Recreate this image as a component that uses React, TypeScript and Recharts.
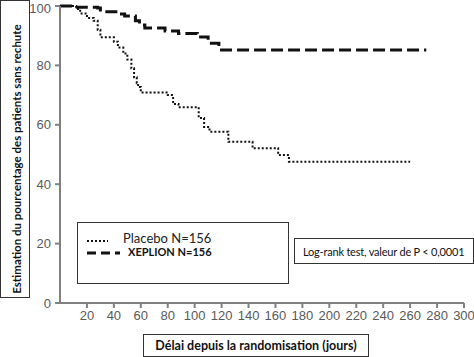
import React from "react"
import { LineChart, Line, XAxis, YAxis } from "recharts"

// Kaplan-Meier steps (days, % without relapse)
const placeboDays = [0, 12, 15, 20, 25, 28, 30, 40, 43, 47, 50, 53, 55, 57, 58, 60, 80, 84, 88, 103, 107, 111, 125, 143, 162, 170, 260]
const placeboPct = [100, 99, 97.5, 96, 95, 92, 89.5, 88, 86, 84, 82, 79, 76, 74, 72.7, 70.9, 70, 67, 65.9, 62.3, 59.3, 57.7, 54.3, 52.1, 49.8, 47.6, 47.6]

const xeplionDays = [0, 10, 28, 30, 44, 48, 56, 59, 63, 78, 88, 102, 110, 118, 272]
const xeplionPct = [100, 99.6, 99.3, 98.1, 97.3, 96.6, 95, 93.6, 92.6, 91.6, 90.7, 89.6, 87.5, 85.2, 85.2]

const xTicks = [20, 40, 60, 80, 100, 120, 140, 160, 180, 200, 220, 240, 260, 280, 300]
const yTicks = [0, 20, 40, 60, 80, 100]

const placeboData = placeboDays.map((x, i) => ({ x, y: placeboPct[i] }))
const xeplionData = xeplionDays.map((x, i) => ({ x, y: xeplionPct[i] }))

const boxFont = "Lato, 'Open Sans', sans-serif"
const tickStyle = { fontSize: 13, fill: "#595959", fontFamily: "'Liberation Sans', Arial, sans-serif" }

export default function App() {
  return (
    <div style={{ position: "absolute", left: 0, top: 0, width: 474, height: 357, background: "#fff" }}>
      <LineChart width={474} height={357} margin={{ top: 6, right: 10, bottom: 0, left: 0 }}>
        <XAxis
          dataKey="x"
          type="number"
          domain={[0, 300]}
          ticks={xTicks}
          height={54}
          tickSize={5}
          tickMargin={3}
          stroke="#808080"
          strokeWidth={2}
          tick={tickStyle}
          allowDataOverflow
        />
        <YAxis
          type="number"
          domain={[0, 100]}
          ticks={yTicks}
          width={60}
          tickSize={5}
          tickMargin={4}
          stroke="#808080"
          strokeWidth={2}
          tick={tickStyle}
        />
        <Line
          data={placeboData}
          dataKey="y"
          type="stepAfter"
          stroke="#111"
          strokeWidth={2}
          strokeDasharray="2 2"
          dot={false}
          isAnimationActive={false}
        />
        <Line
          data={xeplionData}
          dataKey="y"
          type="stepAfter"
          stroke="#111"
          strokeWidth={3}
          strokeDasharray="12 5"
          dot={false}
          isAnimationActive={false}
        />
      </LineChart>

      {/* legend box */}
      <div style={{ position: "absolute", left: 77, top: 222, width: 212, height: 62, border: "1px solid #333", boxSizing: "border-box", fontFamily: boxFont, background: "#fff" }}>
        <svg width={40} height={30} style={{ position: "absolute", left: 8, top: 10 }}>
          <line x1={1} y1={8} x2={22} y2={8} stroke="#111" strokeWidth={2} strokeDasharray="2 2" />
          <line x1={1} y1={20} x2={34} y2={20} stroke="#111" strokeWidth={3} strokeDasharray="9 5" />
        </svg>
        <div style={{ position: "absolute", left: 45, top: 7, fontSize: 13, color: "#222", whiteSpace: "nowrap" }}>Placebo N=156</div>
        <div style={{ position: "absolute", left: 50, top: 22, fontSize: 11, fontWeight: 700, color: "#111", whiteSpace: "nowrap" }}>XEPLION N=156</div>
      </div>

      {/* y axis title box */}
      <div style={{ position: "absolute", left: 0, top: 0, width: 30, height: 298, border: "1px solid #333", boxSizing: "border-box", background: "#fff" }}>
        <div style={{ position: "absolute", left: 15, top: 158, transform: "translate(-50%, -50%) rotate(-90deg)", whiteSpace: "nowrap", fontFamily: boxFont, fontWeight: 700, fontSize: 11.5, color: "#111" }}>
          Estimation du pourcentage des patients sans rechute
        </div>
      </div>

      {/* log-rank box */}
      <div style={{ position: "absolute", left: 294, top: 238, width: 180, height: 26, border: "1px solid #333", boxSizing: "border-box", fontFamily: boxFont, fontSize: 11, letterSpacing: -0.2, color: "#111", display: "flex", alignItems: "center", paddingLeft: 8, whiteSpace: "nowrap", overflow: "hidden" }}>
        Log-rank test, valeur de P &lt; 0,0001
      </div>

      {/* x axis title box */}
      <div style={{ position: "absolute", left: 143, top: 334, width: 226, height: 23, border: "1px solid #333", boxSizing: "border-box", fontFamily: boxFont, fontWeight: 700, fontSize: 12.5, color: "#111", display: "flex", alignItems: "center", justifyContent: "center", whiteSpace: "nowrap" }}>
        Délai depuis la randomisation (jours)
      </div>
    </div>
  )
}
